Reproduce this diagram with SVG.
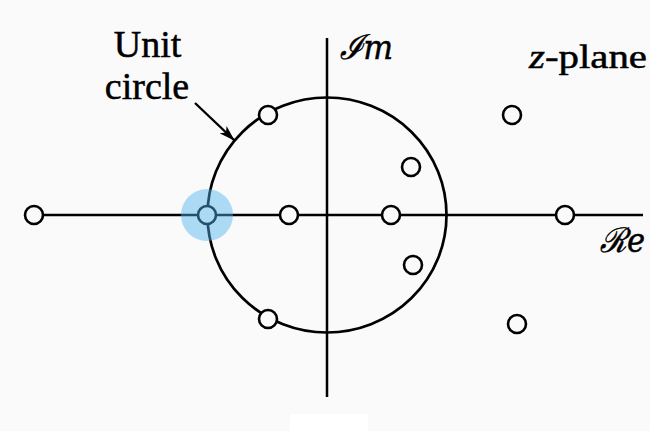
<svg xmlns="http://www.w3.org/2000/svg" width="650" height="431" viewBox="0 0 650 431">
<style>
.ax{stroke:#000;stroke-width:2.5;fill:none}
.uc{stroke:#000;stroke-width:2.7;fill:none}
.z{stroke:#000;stroke-width:2.6;fill:#fafafa}
.t{font-family:"Liberation Serif","Times New Roman",serif;fill:#000;stroke:#000;stroke-width:0.5}
.s{font-family:"DejaVu Serif","Liberation Serif",serif;font-style:italic;fill:#000;stroke:#000;stroke-width:0.5}
</style>
<defs>
<marker id="ah" markerWidth="16" markerHeight="10" refX="15" refY="5" orient="auto" markerUnits="userSpaceOnUse">
<path d="M0,0 L16,5 L0,10 L4,5 Z" fill="#000"/>
</marker>
</defs>
<rect width="650" height="431" fill="#fafafa"/>
<rect x="290" y="414" width="78" height="17" fill="#ffffff"/>
<g id="axes">
<line class="ax" x1="34" y1="215" x2="643" y2="215"/>
<line class="ax" x1="327" y1="38" x2="327" y2="397"/>
</g>
<g id="unit-circle">
<ellipse class="uc" cx="327" cy="215" rx="119.5" ry="117.5"/>
</g>
<g id="connectors">
<line x1="195" y1="103" x2="234" y2="140" stroke="#000" stroke-width="2.4" marker-end="url(#ah)"/>
</g>
<g id="zeros">
<circle class="z" cx="34" cy="215" r="9"/>
<circle class="z" cx="207" cy="215" r="9"/>
<circle class="z" cx="289" cy="215" r="9"/>
<circle class="z" cx="391" cy="215" r="9"/>
<circle class="z" cx="565" cy="215" r="9"/>
<circle class="z" cx="268" cy="115" r="9"/>
<circle class="z" cx="268" cy="319" r="9"/>
<circle class="z" cx="411" cy="167" r="9"/>
<circle class="z" cx="413" cy="265" r="9"/>
<circle class="z" cx="512" cy="115" r="9"/>
<circle class="z" cx="517" cy="324" r="9"/>
</g>
<g id="highlight">
<circle cx="207" cy="215" r="26" fill="#4db4f0" opacity="0.45"/>
</g>
<g id="labels">
<text class="t" x="147.5" y="57" font-size="38" text-anchor="middle">Unit</text>
<text class="t" x="147" y="99" font-size="38" text-anchor="middle">circle</text>
<text class="s" x="340" y="59" font-size="34" textLength="53" lengthAdjust="spacingAndGlyphs">ℐm</text>
<text class="t" x="529" y="68" font-size="34" textLength="118" lengthAdjust="spacingAndGlyphs"><tspan font-style="italic">z</tspan>-plane</text>
<text class="s" x="600" y="252" font-size="34" textLength="45" lengthAdjust="spacingAndGlyphs">ℛe</text>
</g>
</svg>
